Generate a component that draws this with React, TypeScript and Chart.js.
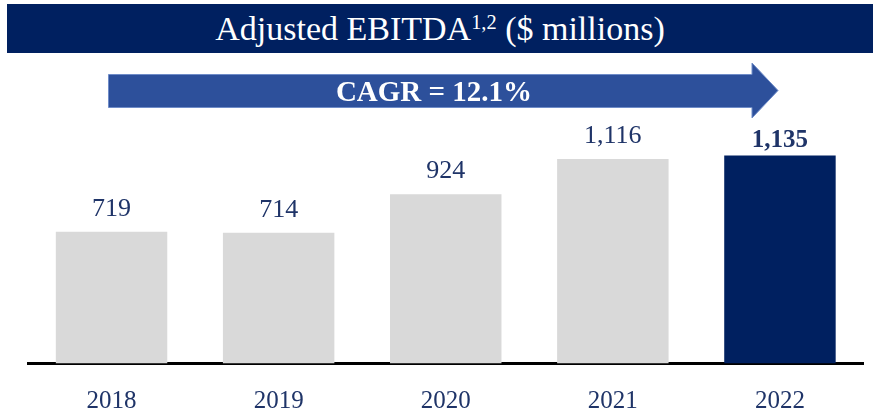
import React, { useEffect, useRef } from "react";
import { Chart, registerables } from "chart.js";

Chart.register(...registerables);

const categories = ["2018", "2019", "2020", "2021", "2022"];
const ebitda = [719, 714, 924, 1116, 1135];
const highlightIndex = 4;
const titleMain = "Adjusted EBITDA";
const titleSup = "1,2";
const titleTail = " ($ millions)";
const cagrText = "CAGR = 12.1%";

const NAVY = "#002060";
const GREY = "#d9d9d9";
const TEXT = "#1f3468";
const ARROW = "#2d509b";
const FONT = '"Liberation Serif", "Times New Roman", serif';

const valueLabels = {
  id: "valueLabels",
  afterDatasetsDraw(chart: any) {
    const ctx = chart.ctx;
    const meta = chart.getDatasetMeta(0);
    meta.data.forEach((bar: any, i: number) => {
      const bold = i === highlightIndex;
      ctx.save();
      ctx.font = `${bold ? "bold 25px" : "26px"} ${FONT}`;
      ctx.fillStyle = TEXT;
      ctx.textAlign = "center";
      ctx.textBaseline = "alphabetic";
      ctx.fillText(ebitda[i].toLocaleString("en-US"), bar.x, bar.y - (bold ? 9 : 16));
      ctx.restore();
    });
  },
};

export default function App() {
  const ref = useRef<HTMLCanvasElement>(null);
  useEffect(() => {
    if (!ref.current) return;
    const chart = new Chart(ref.current, {
      type: "bar",
      data: {
        labels: categories,
        datasets: [
          {
            data: ebitda,
            backgroundColor: ebitda.map((_, i) => (i === highlightIndex ? NAVY : GREY)),
            borderWidth: 0,
            categoryPercentage: 1,
            barPercentage: 0.667,
          },
        ],
      },
      options: {
        animation: false,
        responsive: false,
        maintainAspectRatio: false,
        devicePixelRatio: 1,
        layout: { padding: { left: 28, right: 9.5, top: 107, bottom: 0 } },
        plugins: { legend: { display: false }, tooltip: { enabled: false }, title: { display: false } },
        scales: {
          x: {
            grid: { display: false },
            border: { display: true, color: "#000000", width: 3 },
            ticks: { color: TEXT, font: { family: FONT, size: 25 }, padding: 15 },
            afterFit: (scale: any) => {
              scale.height = 50.5;
            },
          },
          y: { display: false, min: 0, max: 1400 },
        },
      },
      plugins: [valueLabels],
    });
    return () => chart.destroy();
  }, []);

  return (
    <div style={{ position: "fixed", left: 0, top: 0, width: 873, height: 414, background: "#fff", overflow: "hidden" }}>
      <canvas ref={ref} width={873} height={414} style={{ position: "absolute", left: 0, top: 0 }} />
      <div
        style={{
          position: "absolute",
          left: 7,
          top: 4,
          width: 866,
          height: 49,
          background: NAVY,
          color: "#fff",
          fontFamily: FONT,
          fontSize: 34,
          display: "flex",
          alignItems: "center",
          justifyContent: "center",
          whiteSpace: "nowrap",
        }}
      >
        <span>
          {titleMain}
          <sup style={{ fontSize: "0.6em", verticalAlign: "0.55em" }}>{titleSup}</sup>
          {titleTail}
        </span>
      </div>
      <svg width={873} height={130} style={{ position: "absolute", left: 0, top: 0 }}>
        <polygon
          points="108.5,74.5 752,74.5 752,63 778,90.5 752,118 752,107.5 108.5,107.5"
          fill={ARROW}
          stroke="#6f8cc8"
          strokeWidth={1}
        />
      </svg>
      <div
        style={{
          position: "absolute",
          left: 108,
          top: 74,
          width: 652,
          height: 34,
          display: "flex",
          alignItems: "center",
          justifyContent: "center",
          color: "#fff",
          fontFamily: FONT,
          fontWeight: "bold",
          fontSize: 29,
          whiteSpace: "nowrap",
        }}
      >
        <span>{cagrText}</span>
      </div>
    </div>
  );
}
